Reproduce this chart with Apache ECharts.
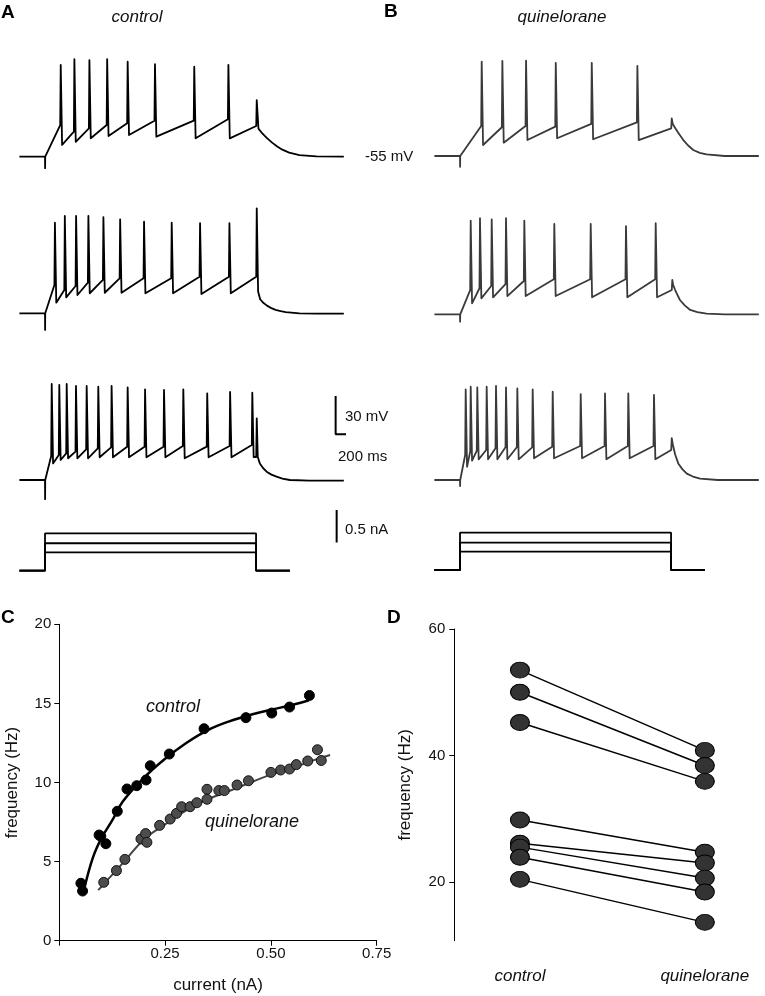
<!DOCTYPE html>
<html><head><meta charset="utf-8">
<script src="https://cdn.jsdelivr.net/npm/echarts@6/dist/echarts.min.js"></script>
<style>html,body{margin:0;padding:0;background:#fff}#c{width:765px;height:996px}</style>
</head><body><div id="c"></div>
<script>
// ---------- Panel A/B: voltage traces (ms, mV) ----------
const restMv = -55, stimOnset = 75, stimOffset = 693, stimEnd = 792;

const a1SpikeT = [121, 161, 205, 257, 317, 397, 512, 612, 695];
const a1PeakMv = [16.8, 21.3, 20.7, 21.3, 19.4, 17.4, 15.5, 16.8, -10.7];
const a1ThrMv = [-30.2, -35.4, -32.8, -30.2, -28.8, -26.8, -26.8, -25.7, -31];
const a1TroughMv = [-45.8, -43.3, -40.6, -38.8, -38, -39.3, -40.6, -40.6];
const a1TailT = [700, 712, 725, 740, 755, 770, 790, 820, 870, 950];
const a1TailMv = [-33, -37, -40.5, -44, -47, -49.5, -51.8, -53.8, -54.8, -55];
const a1ArtMv = -64;

const a2SpikeT = [104, 133, 166, 202, 246, 295, 365, 446, 529, 615, 695];
const a2PeakMv = [15.9, 21.2, 21.2, 21.2, 20.2, 18.6, 16.7, 15.9, 15.5, 15.5, 27.2];
const a2ThrMv = [-32.8, -36.8, -33.6, -31, -28.9, -27.6, -27.6, -27.6, -26.3, -26.3, -26.3];
const a2TroughMv = [-46.7, -42.5, -40.7, -39.3, -38.9, -38.9, -39.3, -39.3, -39.9, -39.3];
const a2TailT = [699, 705, 715, 725, 738, 750, 765, 780, 820, 870, 950];
const a2TailMv = [-38, -44, -47, -49, -51, -52.3, -53.3, -54, -55, -55.3, -55.3];
const a2ArtMv = -68;

const a3SpikeT = [94.6, 116.8, 138.5, 165.7, 197, 231, 270, 317, 368, 423.5, 480, 550, 617, 682, 695];
const a3PeakMv = [20.2, 19.4, 20.2, 18.6, 18.6, 18.1, 18.6, 17.6, 16, 15.5, 16, 12.9, 13.9, 13.4, -6.7];
const a3ThrMv = [-36.2, -35.4, -34.1, -32.8, -31, -30.2, -29.4, -28.9, -28.9, -28.9, -28.4, -28.9, -28.4, -27.6, -37];
const a3TroughMv = [-42, -39.3, -38, -38, -38, -37.2, -37.2, -37.2, -37.2, -37.2, -38, -37.2, -37.2, -37];
const a3TailT = [698, 704, 714, 724, 738, 753, 770, 792, 850, 950];
const a3TailMv = [-37, -42, -45.8, -48.5, -50.8, -52.4, -53.9, -55, -55.5, -55.5];
const a3ArtMv = -70;

const b1SpikeT = [138.5, 199, 268.4, 355.4, 460.8, 594.4, 695];
const b1PeakMv = [18.8, 19.4, 19.6, 18, 18, 15.5, -25.5];
const b1ThrMv = [-31.5, -32.5, -31.5, -32, -29.9, -28.6, -33.3];
const b1TroughMv = [-46.4, -44.6, -42.5, -41.1, -41.9, -42.5];
const b1TailT = [698, 705, 717, 729, 743, 758, 777, 797, 850, 950];
const b1TailMv = [-30, -33, -38, -42.5, -46.8, -50.3, -52.5, -53.8, -55, -55];
const b1ArtMv = -63.4;

const b2SpikeT = [106.3, 133.5, 167.8, 209.7, 263.3, 351.1, 457.7, 561, 648, 696.6];
const b2PeakMv = [18.3, 20.2, 19.4, 20.2, 18.3, 15.7, 15.7, 14.1, 16.3, -28.1];
const b2ThrMv = [-36, -34.6, -32.8, -31.3, -28.9, -27.6, -27.6, -27.6, -27.6, -36];
const b2TroughMv = [-46.4, -42.5, -41.7, -40.7, -40.7, -40.7, -41.7, -41.7, -41.7];
const b2TailT = [699, 705, 712, 719, 733, 749, 770, 797, 850, 950];
const b2TailMv = [-32, -36, -40, -43.8, -48, -51.6, -53.3, -54.4, -55, -55];
const b2ArtMv = -60.8;

const b3SpikeT = [91.6, 106.3, 125.6, 153.1, 180.4, 209.7, 242.8, 287.8, 346.4, 428.4, 499.6, 567.8, 643, 695];
const b3PeakMv = [16, 18.1, 17.6, 18.1, 18.6, 17.6, 16.8, 16, 14.1, 12.3, 12.9, 12.9, 11.6, -22.3];
const b3ThrMv = [-35.4, -32.8, -32.1, -31.5, -30.2, -29.4, -29.4, -29.4, -28.9, -28.4, -28.4, -28.4, -28.4, -31.5];
const b3TroughMv = [-44.6, -39.9, -38.8, -38.8, -38.8, -38.8, -38.8, -38, -38, -38, -38.8, -38, -38.8];
const b3TailT = [698, 705, 714, 726, 739, 757, 778, 830, 950];
const b3TailMv = [-27, -35, -42, -46.5, -50, -52.3, -53.9, -55, -55];
const b3ArtMv = -59.7;

// injected current steps (nA)
const stimLevels = [0.28, 0.42, 0.57];

// scale bars
const barMv = 30, barMs = 200, barNa = 0.5;
const barOriginT = 926, barOriginMv = -19.2, barNaT = 929, barNaStart = 0.43;

// ---------- Panel C: f-I relation ----------
const ctrlCurrent = [0.051, 0.055, 0.094, 0.098, 0.11, 0.137, 0.16, 0.183, 0.205, 0.215, 0.26, 0.342, 0.441, 0.502, 0.544, 0.591];
const ctrlFreq = [3.63, 3.14, 6.68, 6.6, 6.13, 8.18, 9.59, 9.8, 10.16, 11.06, 11.8, 13.4, 14.1, 14.39, 14.77, 15.5];
const ctrlFitCurrent = [0.06, 0.08, 0.1, 0.125, 0.15, 0.2, 0.25, 0.3, 0.35, 0.4, 0.45, 0.5, 0.55, 0.59];
const ctrlFitFreq = [3.4, 5.3, 6.5, 7.6, 8.8, 10.3, 11.5, 12.5, 13.3, 13.85, 14.27, 14.6, 14.9, 15.2];

const quinCurrent = [0.105, 0.135, 0.155, 0.193, 0.204, 0.207, 0.237, 0.262, 0.277, 0.289, 0.309, 0.325, 0.349, 0.349, 0.377, 0.39, 0.42, 0.447, 0.5, 0.523, 0.544, 0.56, 0.587, 0.61, 0.619];
const quinFreq = [3.69, 4.43, 5.14, 6.43, 6.77, 6.22, 7.29, 7.69, 8.05, 8.47, 8.47, 8.72, 8.94, 9.57, 9.49, 9.49, 9.84, 10.11, 10.64, 10.79, 10.85, 11.13, 11.36, 12.07, 11.39];
const quinFitCurrent = [0.092, 0.15, 0.2, 0.25, 0.3, 0.35, 0.4, 0.45, 0.5, 0.55, 0.6, 0.64];
const quinFitFreq = [3.2, 4.9, 6.4, 7.35, 8.24, 8.93, 9.45, 9.98, 10.5, 10.9, 11.4, 11.74];

const cXTicks = [0, 0.25, 0.5, 0.75];
const cYTicks = [0, 5, 10, 15, 20];

// ---------- Panel D: paired frequencies ----------
const dCategories = ['control', 'quinelorane'];
const dControl = [53.5, 50.0, 45.2, 29.8, 26.1, 25.5, 23.9, 20.4];
const dQuin = [40.8, 38.4, 35.9, 24.7, 23.0, 20.6, 18.4, 13.6];
const dYTicks = [20, 40, 60];

// ---------- build ----------
function buildTrace(sT, pk, th, tr, tT, tV, art) {
  const pts = [[0, restMv], [stimOnset, restMv], [stimOnset + 0.3, art], [stimOnset + 0.6, restMv]];
  for (let i = 0; i < sT.length; i++) {
    pts.push([sT[i] - 1.5, th[i]]);
    pts.push([sT[i], pk[i]]);
    if (i < sT.length - 1) pts.push([sT[i] + 4, tr[i]]);
  }
  for (let j = 0; j < tT.length; j++) pts.push([tT[j], tV[j]]);
  return pts;
}
const traces = [
  buildTrace(a1SpikeT, a1PeakMv, a1ThrMv, a1TroughMv, a1TailT, a1TailMv, a1ArtMv),
  buildTrace(a2SpikeT, a2PeakMv, a2ThrMv, a2TroughMv, a2TailT, a2TailMv, a2ArtMv),
  buildTrace(a3SpikeT, a3PeakMv, a3ThrMv, a3TroughMv, a3TailT, a3TailMv, a3ArtMv),
  buildTrace(b1SpikeT, b1PeakMv, b1ThrMv, b1TroughMv, b1TailT, b1TailMv, b1ArtMv),
  buildTrace(b2SpikeT, b2PeakMv, b2ThrMv, b2TroughMv, b2TailT, b2TailMv, b2ArtMv),
  buildTrace(b3SpikeT, b3PeakMv, b3ThrMv, b3TroughMv, b3TailT, b3TailMv, b3ArtMv)
];

// layout
const pxPerMs = 0.3415, pxPerMv = 1.277, pxPerNa = 65.4;
const tMax = 950, vMax = 30, vMin = -75, iMax = 0.6;
const traceLefts = [19.4, 19.4, 19.4, 434.4, 434.4, 434.4];
const traceRest = [156.7, 313.3, 480, 156, 314.3, 480];
const stimLefts = [19.4, 434.4];
const stimBase = [570.7, 570];
const FONT = '"Liberation Sans", Arial, Helvetica, sans-serif';

const grids = [], xAxes = [], yAxes = [], series = [];
traces.forEach((tr, i) => {
  grids.push({ left: traceLefts[i], top: traceRest[i] - (vMax - restMv) * pxPerMv, width: tMax * pxPerMs, height: (vMax - vMin) * pxPerMv });
  xAxes.push({ gridIndex: i, type: 'value', min: 0, max: tMax, show: false });
  yAxes.push({ gridIndex: i, type: 'value', min: vMin, max: vMax, show: false });
  series.push({ type: 'line', xAxisIndex: i, yAxisIndex: i, data: tr, showSymbol: false, symbol: 'none', clip: false,
    lineStyle: { color: i < 3 ? '#000' : '#3a3a3a', width: 1.8, join: 'round' }, silent: true });
});
// stimulus grids 6,7
stimLefts.forEach((l, k) => {
  const gi = 6 + k;
  grids.push({ left: l, top: stimBase[k] - iMax * pxPerNa, width: tMax * pxPerMs, height: iMax * pxPerNa });
  xAxes.push({ gridIndex: gi, type: 'value', min: 0, max: tMax, show: false });
  yAxes.push({ gridIndex: gi, type: 'value', min: 0, max: iMax, show: false });
  stimLevels.forEach(lv => {
    series.push({ type: 'line', xAxisIndex: gi, yAxisIndex: gi, showSymbol: false, symbol: 'none', clip: false,
      data: [[0, 0], [stimOnset, 0], [stimOnset, lv], [stimOffset, lv], [stimOffset, 0], [stimEnd, 0]],
      lineStyle: { color: '#000', width: 1.8 }, silent: true });
  });
});
// scale bars
series.push({ type: 'line', xAxisIndex: 2, yAxisIndex: 2, showSymbol: false, symbol: 'none', clip: false, silent: true,
  data: [[barOriginT, barOriginMv + barMv], [barOriginT, barOriginMv], [barOriginT + barMs, barOriginMv]],
  lineStyle: { color: '#000', width: 2 } });
series.push({ type: 'line', xAxisIndex: 6, yAxisIndex: 6, showSymbol: false, symbol: 'none', clip: false, silent: true,
  data: [[barNaT, barNaStart], [barNaT, barNaStart + barNa]],
  lineStyle: { color: '#000', width: 2 } });

// Panel C grid 8
grids.push({ left: 59.3, top: 624.3, width: 317.4, height: 316.4 });
xAxes.push({ gridIndex: 8, type: 'value', min: cXTicks[0], max: cXTicks[cXTicks.length - 1], interval: 0.25,
  name: 'current (nA)', nameLocation: 'middle', nameGap: 36,
  nameTextStyle: { fontFamily: FONT, fontSize: 17, color: '#111' },
  axisLine: { onZero: false, lineStyle: { color: '#000', width: 1 } }, axisTick: { length: 5, lineStyle: { color: '#000' } },
  splitLine: { show: false },
  axisLabel: { fontFamily: FONT, fontSize: 15, color: '#111', margin: 6, formatter: v => v === 0 ? '' : v.toFixed(2) } });
yAxes.push({ gridIndex: 8, type: 'value', min: cYTicks[0], max: cYTicks[cYTicks.length - 1], interval: 5,
  name: 'frequency (Hz)', nameLocation: 'middle', nameGap: 38,
  nameTextStyle: { fontFamily: FONT, fontSize: 17, color: '#111' },
  axisLine: { show: true, onZero: false, lineStyle: { color: '#000', width: 1 } }, axisTick: { show: true, length: 5, lineStyle: { color: '#000' } },
  splitLine: { show: false },
  axisLabel: { fontFamily: FONT, fontSize: 15, color: '#111', margin: 8 } });
series.push({ type: 'line', xAxisIndex: 8, yAxisIndex: 8, smooth: 0.4, showSymbol: false, symbol: 'none',
  data: quinFitCurrent.map((x, i) => [x, quinFitFreq[i]]), lineStyle: { color: '#444', width: 2 }, z: 2 });
series.push({ type: 'line', xAxisIndex: 8, yAxisIndex: 8, smooth: 0.4, showSymbol: false, symbol: 'none',
  data: ctrlFitCurrent.map((x, i) => [x, ctrlFitFreq[i]]), lineStyle: { color: '#000', width: 2.5 }, z: 2 });
series.push({ type: 'scatter', xAxisIndex: 8, yAxisIndex: 8, symbolSize: 10,
  data: quinCurrent.map((x, i) => [x, quinFreq[i]]), itemStyle: { color: '#4d4d4d', borderColor: '#111', borderWidth: 1, opacity: 1 }, z: 3 });
series.push({ type: 'scatter', xAxisIndex: 8, yAxisIndex: 8, symbolSize: 10,
  data: ctrlCurrent.map((x, i) => [x, ctrlFreq[i]]), itemStyle: { color: '#000', borderColor: '#000', borderWidth: 1, opacity: 1 }, z: 3 });

// Panel D grid 9
grids.push({ left: 454.3, top: 629, width: 306, height: 311.7 });
xAxes.push({ gridIndex: 9, type: 'value', min: -0.355, max: 1.3,
  axisLine: { show: false, onZero: false }, axisTick: { show: false }, splitLine: { show: false },
  axisLabel: { customValues: [0, 1], formatter: v => dCategories[Math.round(v)], fontFamily: FONT, fontSize: 17,
    fontStyle: 'italic', color: '#111', margin: 27 } });
yAxes.push({ gridIndex: 9, type: 'value', min: 10.7, max: 60,
  name: 'frequency (Hz)', nameLocation: 'middle', nameGap: 40,
  nameTextStyle: { fontFamily: FONT, fontSize: 17, color: '#111' },
  axisLine: { show: true, onZero: false, lineStyle: { color: '#000', width: 1 } },
  axisTick: { show: true, length: 5, customValues: dYTicks, lineStyle: { color: '#000' } },
  splitLine: { show: false },
  axisLabel: { customValues: dYTicks, fontFamily: FONT, fontSize: 15, color: '#111', margin: 9 } });
dControl.forEach((c, i) => {
  series.push({ type: 'line', xAxisIndex: 9, yAxisIndex: 9, data: [[0, c], [1, dQuin[i]]],
    symbol: 'circle', symbolSize: [19, 16], showSymbol: true,
    lineStyle: { color: '#000', width: 1.5 }, itemStyle: { color: '#333', borderColor: '#000', borderWidth: 1, opacity: 1 }, z: 3 });
});

const txt = (text, x, y, o) => ({ type: 'text', x, y, silent: true,
  style: Object.assign({ text, fill: '#111', font: '15px ' + FONT, textVerticalAlign: 'middle' }, o || {}) });
const option = {
  animation: false,
  grid: grids.map(g => Object.assign({ containLabel: false, outerBoundsMode: 'none' }, g)),
  xAxis: xAxes, yAxis: yAxes, series,
  graphic: [
    txt('A', 1, 13, { font: 'bold 19px ' + FONT, fill: '#000' }),
    txt('B', 384, 12, { font: 'bold 19px ' + FONT, fill: '#000' }),
    txt('C', 1, 618, { font: 'bold 19px ' + FONT, fill: '#000' }),
    txt('D', 387, 618, { font: 'bold 19px ' + FONT, fill: '#000' }),
    txt('control', 137, 17, { font: 'italic 17px ' + FONT, textAlign: 'center' }),
    txt('quinelorane', 562, 17, { font: 'italic 17px ' + FONT, textAlign: 'center' }),
    txt('-55 mV', 365, 157),
    txt('30 mV', 345, 417),
    txt('200 ms', 338, 457),
    txt('0.5 nA', 345, 530),
    txt('control', 173, 707, { font: 'italic 18px ' + FONT, textAlign: 'center' }),
    txt('quinelorane', 252, 822, { font: 'italic 18px ' + FONT, textAlign: 'center' })
  ]
};
const chart = echarts.init(document.getElementById('c'), null, { renderer: 'canvas' });
chart.setOption(option);
</script></body></html>
